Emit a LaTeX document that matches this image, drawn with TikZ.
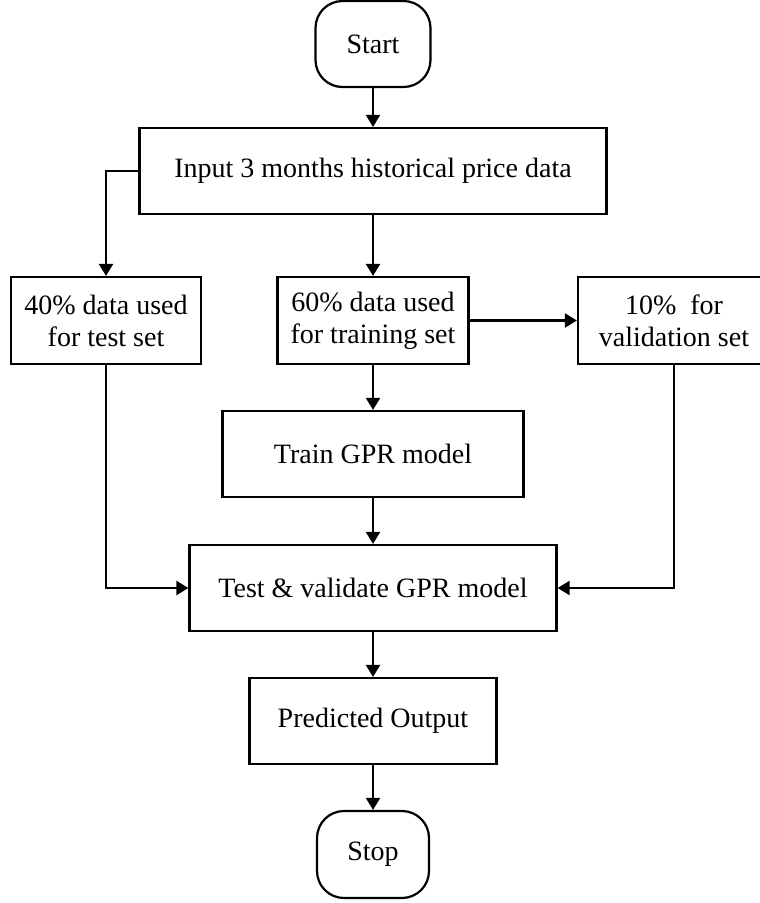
\documentclass[tikz,border=0pt]{standalone}
\usepackage{fontspec}
\setmainfont{Liberation Serif}
\usetikzlibrary{arrows.meta}

\begin{document}
\begin{tikzpicture}[x=1pt, y=-1pt, line width=2.2pt,
    box/.style={draw, rectangle, inner sep=0pt, align=center,
        font=\fontsize{28}{32}\selectfont},
    term/.style={box, rounded corners=27pt},
    flow/.style={-{Triangle[length=12pt, width=14pt]}}]

    \useasboundingbox (0,0) rectangle (760,903);

    % --- 1. start / input ---
    \node[term, minimum width=115pt, minimum height=86pt] (start) at (373,44) {Start};
    \node[box, minimum width=467pt, minimum height=86pt] (input) at (373,171) {Input 3 months historical price data};

    % --- 2. data split ---
    \node[box, minimum width=190pt, minimum height=87pt] (test40) at (106,320.5) {40\% data used\\for test set};
    \node[box, minimum width=191pt, minimum height=87pt] (train60) at (373,320.5) {60\% data used\\for training set};
    \node[box, minimum width=192pt, minimum height=87pt] (valid10) at (674,320.5) {10\% \ for\\validation set};

    % --- 3. model ---
    \node[box, minimum width=301pt, minimum height=86pt] (train) at (373,454) {Train GPR model};
    \node[box, minimum width=367pt, minimum height=86pt] (testval) at (373,588) {Test \& validate GPR model};
    \node[box, minimum width=247pt, minimum height=86pt] (pred) at (373,721) {Predicted Output};
    \node[term, minimum width=112pt, minimum height=87pt] (stop) at (373,854.5) {Stop};

    % --- 4. connectors ---
    \draw[flow] (start) -- (input);
    \draw[flow] (input.west) -| (test40.north);
    \draw[flow] (input) -- (train60);
    \draw[flow] (train60) -- (valid10);
    \draw[flow] (train60) -- (train);
    \draw[flow] (train) -- (testval);
    \draw[flow] (test40.south) |- (testval.west); % 40% -> test
    \draw[flow] (valid10.south) |- (testval.east); % 10% -> test
    \draw[flow] (testval) -- (pred);
    \draw[flow] (pred) -- (stop);

\end{tikzpicture}
\end{document}
